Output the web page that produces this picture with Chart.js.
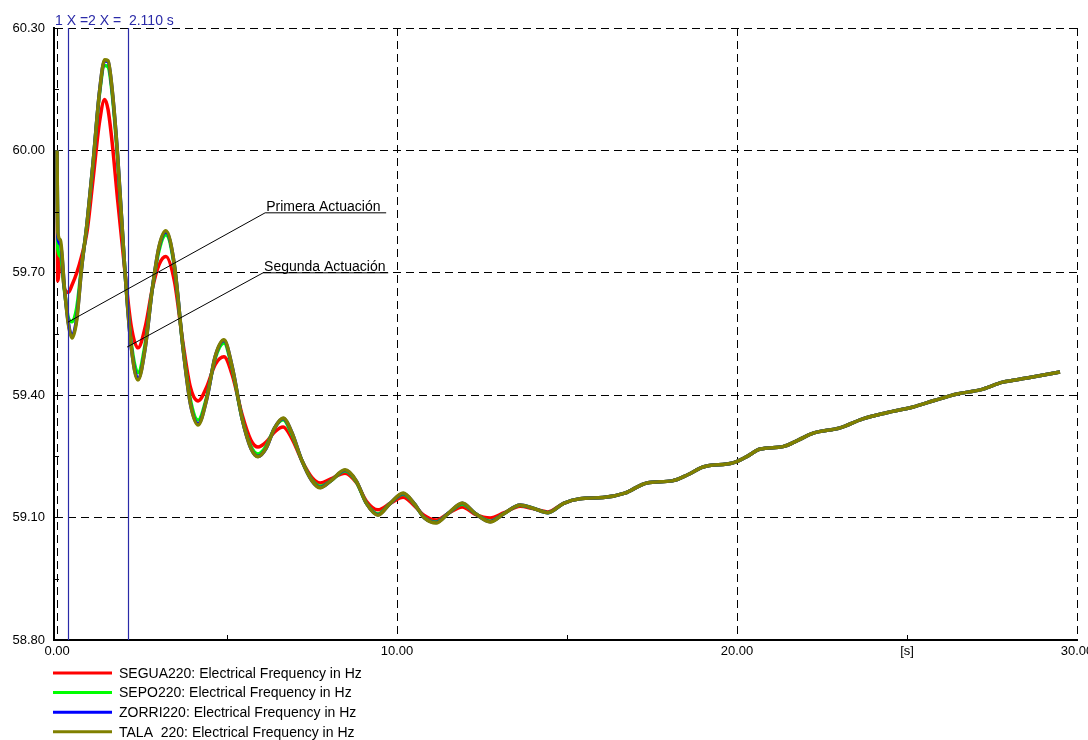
<!DOCTYPE html>
<html>
<head>
<meta charset="utf-8">
<script src="https://cdn.jsdelivr.net/npm/chart.js@4.4.0/dist/chart.umd.min.js"></script>
<style>
  html, body { margin: 0; padding: 0; background: #ffffff; }
  #lienzo { display: block; }
</style>
</head>
<body>
<canvas id="lienzo" width="1088" height="740"></canvas>
<script>
// Tiempo de simulación [s]
const tiempo = [
  0, 0.02, 0.10, 0.22, 0.33, 0.44, 0.58, 0.72, 0.88, 1.06,
  1.25, 1.40, 1.50, 1.62, 1.78, 2.00, 2.18, 2.38, 2.60, 2.80,
  3.00, 3.20, 3.45, 3.70, 3.92, 4.15, 4.40, 4.65, 4.91, 5.15,
  5.45, 5.70, 5.91, 6.15, 6.40, 6.65, 6.90, 7.20, 7.50, 7.74,
  8.05, 8.47, 8.80, 9.10, 9.44, 9.80, 10.18, 10.50, 10.80, 11.15,
  11.50, 11.92, 12.30, 12.74, 13.15, 13.62, 14.00, 14.44, 14.90, 15.38,
  16.06, 16.70, 17.35, 18.09, 18.55, 19.00, 19.88, 20.30, 20.68, 21.35,
  21.80, 22.24, 23.03, 23.70, 24.40, 25.18, 25.80, 26.47, 27.15, 27.82,
  28.53, 29.50
];

// Frecuencia eléctrica por barra [Hz]
const segua220 = [
  60.00, 59.68, 59.74, 59.66, 59.652, 59.67, 59.70, 59.74, 59.80, 59.93,
  60.07, 60.125, 60.10, 60.02, 59.88, 59.70, 59.57, 59.516, 59.57, 59.66,
  59.72, 59.74, 59.68, 59.53, 59.42, 59.386, 59.42, 59.475, 59.494, 59.45,
  59.35, 59.29, 59.273, 59.285, 59.31, 59.322, 59.295, 59.24, 59.198, 59.185,
  59.195, 59.209, 59.186, 59.14, 59.119, 59.135, 59.150, 59.13, 59.105, 59.094,
  59.11, 59.126, 59.108, 59.099, 59.112, 59.128, 59.122, 59.114, 59.135, 59.146,
  59.149, 59.16, 59.185, 59.19, 59.205, 59.224, 59.234, 59.25, 59.268, 59.274,
  59.29, 59.307, 59.32, 59.342, 59.357, 59.371, 59.387, 59.403, 59.413, 59.432,
  59.442, 59.457
];
const sepo220 = [
  60.00, 59.76, 59.74, 59.655, 59.59, 59.58, 59.615, 59.715, 59.82, 59.97,
  60.14, 60.208, 60.205, 60.14, 59.98, 59.70, 59.53, 59.455, 59.53, 59.66,
  59.755, 59.793, 59.715, 59.52, 59.39, 59.339, 59.395, 59.49, 59.528, 59.465,
  59.34, 59.275, 59.256, 59.275, 59.32, 59.34, 59.305, 59.24, 59.192, 59.177,
  59.19, 59.214, 59.188, 59.135, 59.109, 59.135, 59.157, 59.134, 59.10, 59.089,
  59.11, 59.133, 59.11, 59.091, 59.11, 59.13, 59.123, 59.112, 59.135, 59.146,
  59.149, 59.16, 59.185, 59.19, 59.205, 59.224, 59.234, 59.25, 59.268, 59.274,
  59.29, 59.307, 59.32, 59.342, 59.357, 59.371, 59.387, 59.403, 59.413, 59.432,
  59.442, 59.457
];
const zorri220 = [
  60.00, 59.79, 59.77, 59.66, 59.578, 59.545, 59.59, 59.71, 59.82, 59.97,
  60.145, 60.22, 60.218, 60.148, 59.99, 59.70, 59.52, 59.44, 59.52, 59.66,
  59.763, 59.80, 59.72, 59.52, 59.38, 59.33, 59.39, 59.494, 59.534, 59.47,
  59.34, 59.27, 59.25, 59.27, 59.32, 59.343, 59.31, 59.24, 59.19, 59.174,
  59.19, 59.216, 59.19, 59.135, 59.107, 59.135, 59.159, 59.135, 59.10, 59.088,
  59.11, 59.135, 59.11, 59.09, 59.11, 59.131, 59.123, 59.112, 59.135, 59.146,
  59.149, 59.16, 59.185, 59.19, 59.205, 59.224, 59.234, 59.25, 59.268, 59.274,
  59.29, 59.307, 59.32, 59.342, 59.357, 59.371, 59.387, 59.403, 59.413, 59.432,
  59.442, 59.457
];
const tala220 = [
  60.00, 59.80, 59.78, 59.66, 59.575, 59.54, 59.585, 59.71, 59.82, 59.97,
  60.145, 60.222, 60.22, 60.15, 59.99, 59.70, 59.52, 59.437, 59.52, 59.66,
  59.765, 59.803, 59.72, 59.52, 59.38, 59.327, 59.39, 59.495, 59.536, 59.47,
  59.34, 59.27, 59.249, 59.27, 59.32, 59.344, 59.31, 59.24, 59.19, 59.173,
  59.19, 59.217, 59.19, 59.135, 59.106, 59.135, 59.160, 59.135, 59.10, 59.087,
  59.11, 59.136, 59.11, 59.089, 59.11, 59.131, 59.123, 59.112, 59.135, 59.146,
  59.149, 59.16, 59.185, 59.19, 59.205, 59.224, 59.234, 59.25, 59.268, 59.274,
  59.29, 59.307, 59.32, 59.342, 59.357, 59.371, 59.387, 59.403, 59.413, 59.432,
  59.442, 59.457
];

const nombresSeries = [
  'SEGUA220: Electrical Frequency in Hz',
  'SEPO220: Electrical Frequency in Hz',
  'ZORRI220: Electrical Frequency in Hz',
  'TALA  220: Electrical Frequency in Hz'
];
const coloresSeries = ['#ff0000', '#00ff00', '#0000ff', '#808000'];

// Marcas de los ejes
const marcasX = [0, 5, 10, 15, 20, 25, 30];
const etiquetasX = ['0.00', '', '10.00', '', '20.00', '[s]', '30.00'];
const marcasY = [58.80, 58.95, 59.10, 59.25, 59.40, 59.55, 59.70, 59.85, 60.00, 60.15, 60.30];
const etiquetasY = ['58.80', '', '59.10', '', '59.40', '', '59.70', '', '60.00', '', '60.30'];

// Cursores de medición
const cursoresX = [0.33, 2.11];
const textoCursor = '1 X =2 X =  2.110 s';
const colorCursor = '#2a2aa8';

// Rótulos de actuación: punto señalado, inicio del rótulo y fin del subrayado
const textosActuacion = ['Primera Actuación', 'Segunda Actuación'];
const puntoT = [0.32, 2.06];
const puntoF = [59.579, 59.518];
const rotuloT = [6.12, 6.06];
const rotuloF = [59.847, 59.70];
const finSubrayadoT = [9.68, 9.74];

const FUENTE = '"Liberation Sans", Arial, Helvetica, sans-serif';

const series = [segua220, sepo220, zorri220, tala220];
const ordenDibujo = [3, 2, 1, 0];

const datasets = series.map((serie, k) => ({
  label: nombresSeries[k],
  data: tiempo.map((t, i) => ({ x: t, y: serie[i] })),
  borderColor: coloresSeries[k],
  borderWidth: 3.5,
  pointRadius: 0,
  fill: false,
  order: ordenDibujo[k],
  cubicInterpolationMode: 'monotone'
}));

function trazo(ctx, color, ancho, puntos) {
  ctx.save();
  ctx.setLineDash([]);
  ctx.strokeStyle = color;
  ctx.lineWidth = ancho;
  ctx.beginPath();
  ctx.moveTo(puntos[0][0], puntos[0][1]);
  for (let i = 1; i < puntos.length; i++) ctx.lineTo(puntos[i][0], puntos[i][1]);
  ctx.stroke();
  ctx.restore();
}

const complementos = {
  id: 'complementos',
  afterDatasetsDraw(chart) {
    const { ctx, chartArea: a, scales: { x, y } } = chart;

    // cursores verticales
    cursoresX.forEach(v => {
      const px = Math.floor(x.getPixelForValue(v)) + 0.5;
      trazo(ctx, colorCursor, 1.2, [[px, a.top], [px, a.bottom]]);
    });

    // marcas menores hacia el interior
    marcasY.forEach((v, i) => {
      if (etiquetasY[i] !== '') return;
      const py = Math.round(y.getPixelForValue(v)) + 0.5;
      trazo(ctx, '#000', 1, [[a.left, py], [a.left + 5, py]]);
    });
    marcasX.forEach((v, i) => {
      if (etiquetasX[i] !== '' && etiquetasX[i] !== '[s]') return;
      const px = Math.round(x.getPixelForValue(v)) + 0.5;
      trazo(ctx, '#000', 1, [[px, a.bottom], [px, a.bottom - 5]]);
    });

    // rótulos de actuación
    ctx.save();
    ctx.font = '14px ' + FUENTE;
    ctx.fillStyle = '#000';
    ctx.textBaseline = 'alphabetic';
    ctx.textAlign = 'left';
    textosActuacion.forEach((txt, k) => {
      const x0 = x.getPixelForValue(puntoT[k]);
      const y0 = y.getPixelForValue(puntoF[k]);
      const x1 = x.getPixelForValue(rotuloT[k]);
      const y1 = y.getPixelForValue(rotuloF[k]);
      const x2 = x.getPixelForValue(finSubrayadoT[k]);
      trazo(ctx, '#000', 1, [[x0, y0], [x1, y1], [x2, y1]]);
      ctx.fillText(txt, x1 + 1, y1 - 2);
    });

    // texto de cursores
    ctx.fillStyle = colorCursor;
    ctx.fillText(textoCursor, a.left + 1, a.top - 3);
    ctx.restore();
  },
  afterDraw(chart) {
    const { ctx, chartArea: a } = chart;
    ctx.save();
    ctx.font = '14px ' + FUENTE;
    ctx.textBaseline = 'middle';
    ctx.textAlign = 'left';
    chart.data.datasets.forEach((ds, k) => {
      const yy = a.bottom + 33 + k * 19.6;
      trazo(ctx, ds.borderColor, 3, [[53, yy], [112, yy]]);
      ctx.fillStyle = '#000';
      ctx.fillText(ds.label, 119, yy + 1);
    });
    ctx.restore();
  }
};

new Chart(document.getElementById('lienzo'), {
  type: 'line',
  data: { datasets },
  options: {
    responsive: false,
    animation: false,
    devicePixelRatio: 1,
    layout: { autoPadding: false, padding: { left: 0, top: 28, right: 11, bottom: 0 } },
    plugins: { legend: { display: false }, tooltip: { enabled: false } },
    scales: {
      x: {
        type: 'linear',
        min: -0.09,
        max: 30,
        afterBuildTicks: s => { s.ticks = marcasX.map(v => ({ value: v })); },
        afterFit: s => { s.height = 100; s.paddingLeft = 0; s.paddingRight = 0; },
        ticks: {
          autoSkip: false, maxRotation: 0, padding: 4, color: '#000',
          font: { family: FUENTE, size: 13 },
          callback: (v, i) => etiquetasX[i]
        },
        grid: {
          drawTicks: false,
          lineWidth: 1,
          color: c => (etiquetasX[c.index] !== '' && etiquetasX[c.index] !== '[s]') ? '#000' : 'rgba(0,0,0,0)'
        },
        border: { display: true, color: '#000', width: 2, dash: [8, 5] }
      },
      y: {
        type: 'linear',
        min: 58.80,
        max: 60.30,
        afterBuildTicks: s => { s.ticks = marcasY.map(v => ({ value: v })); },
        afterFit: s => { s.width = 54; s.paddingTop = 0; s.paddingBottom = 0; },
        ticks: {
          autoSkip: false, padding: 9, color: '#000',
          font: { family: FUENTE, size: 13 },
          callback: (v, i) => etiquetasY[i]
        },
        grid: {
          drawTicks: false,
          lineWidth: 1,
          color: c => (c.index > 0 && etiquetasY[c.index] !== '') ? '#000' : 'rgba(0,0,0,0)'
        },
        border: { display: true, color: '#000', width: 2, dash: [8, 5] }
      }
    }
  },
  plugins: [complementos]
});
</script>
</body>
</html>
